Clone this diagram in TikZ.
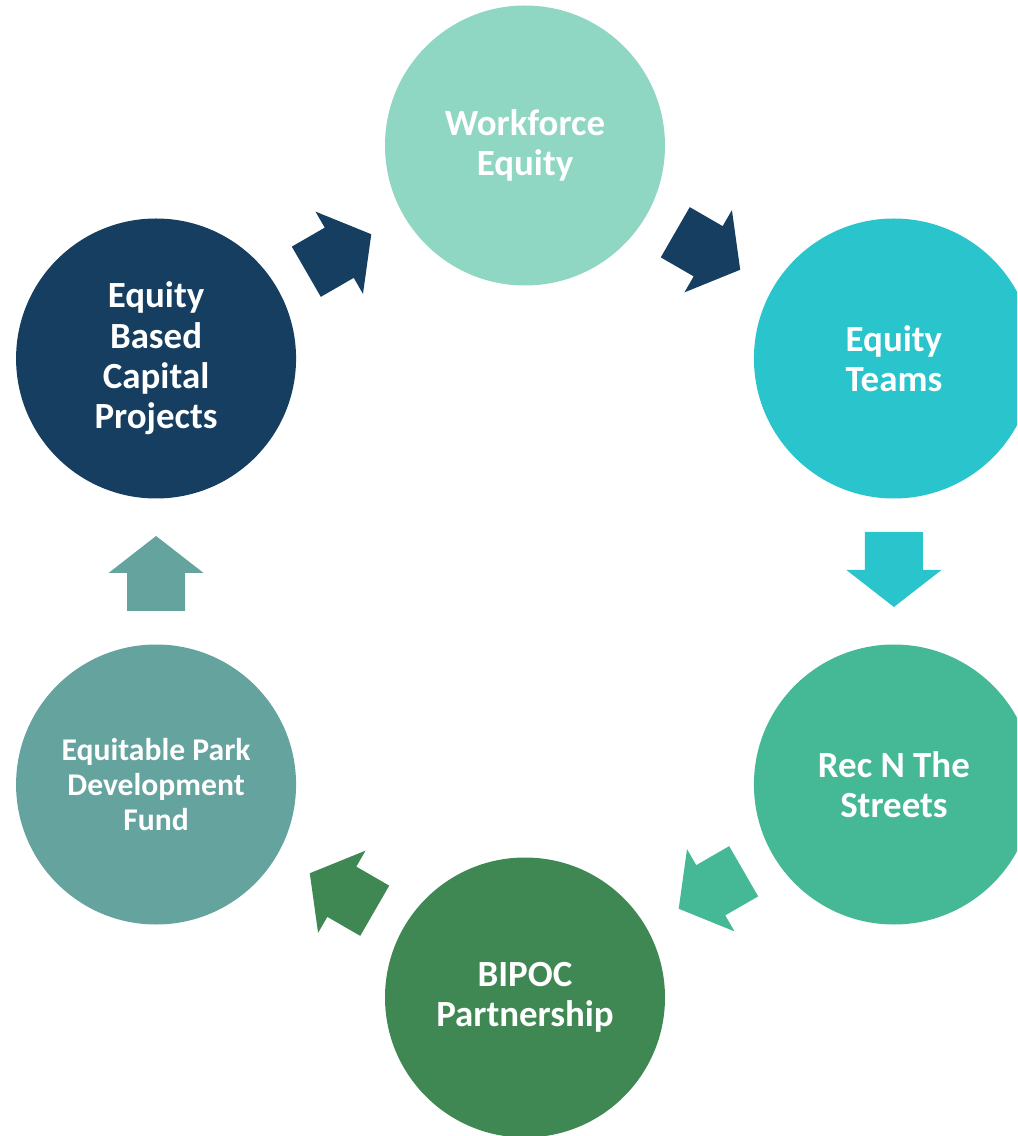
\documentclass[tikz,border=0pt]{standalone}
\usepackage{fontspec}
\setmainfont{Carlito}
\usepackage{tikz}
\usetikzlibrary{calc}

\definecolor{workforce}{HTML}{8FD6C3}
\definecolor{teams}{HTML}{29C4CC}
\definecolor{recn}{HTML}{45B896}
\definecolor{bipoc}{HTML}{3F8853}
\definecolor{parkfund}{HTML}{64A39E}
\definecolor{capital}{HTML}{153E60}

\tikzset{
	phase/.style={circle, minimum size=5.6cm, inner sep=0pt, text=white, align=center,
		font=\fontsize{21}{23}\selectfont\bfseries},
}

\begin{document}
\begin{tikzpicture}
	\useasboundingbox (-10.5,-11.29) rectangle (9.84,11.43);
	\clip (-10.5,-11.29) rectangle (9.84,11.43);
	\node[phase, fill=workforce] (work) at (90:8.52) {Workforce\\Equity};
	\node[phase, fill=teams] (teams) at (30:8.52) {Equity\\Teams};
	\node[phase, fill=recn] (rec) at (-30:8.52) {Rec N The\\Streets};
	\node[phase, fill=bipoc] (bipoc) at (-90:8.52) {BIPOC\\Partnership};
	\node[phase, fill=parkfund, font=\fontsize{18}{19.8}\selectfont\bfseries] (park) at (-150:8.52) {Equitable Park\\Development\\Fund};
	\node[phase, fill=capital] (cap) at (150:8.52) {Equity\\Based\\Capital\\Projects};
	% block arrows half way between the circles
\foreach \from/\to/\ang/\col in {cap/work/30/capital, work/teams/-30/capital, teams/rec/-90/teams, rec/bipoc/-150/recn, bipoc/park/150/bipoc, park/cap/90/parkfund}
	\fill[\col, shift={($(\from)!0.5!(\to)$)}, rotate=\ang]
		(-0.79,-0.58) -- (-0.03,-0.58) -- (-0.03,-0.95) -- (0.71,0) -- (-0.03,0.95) -- (-0.03,0.58) -- (-0.79,0.58) -- cycle;
\end{tikzpicture}
\end{document}
